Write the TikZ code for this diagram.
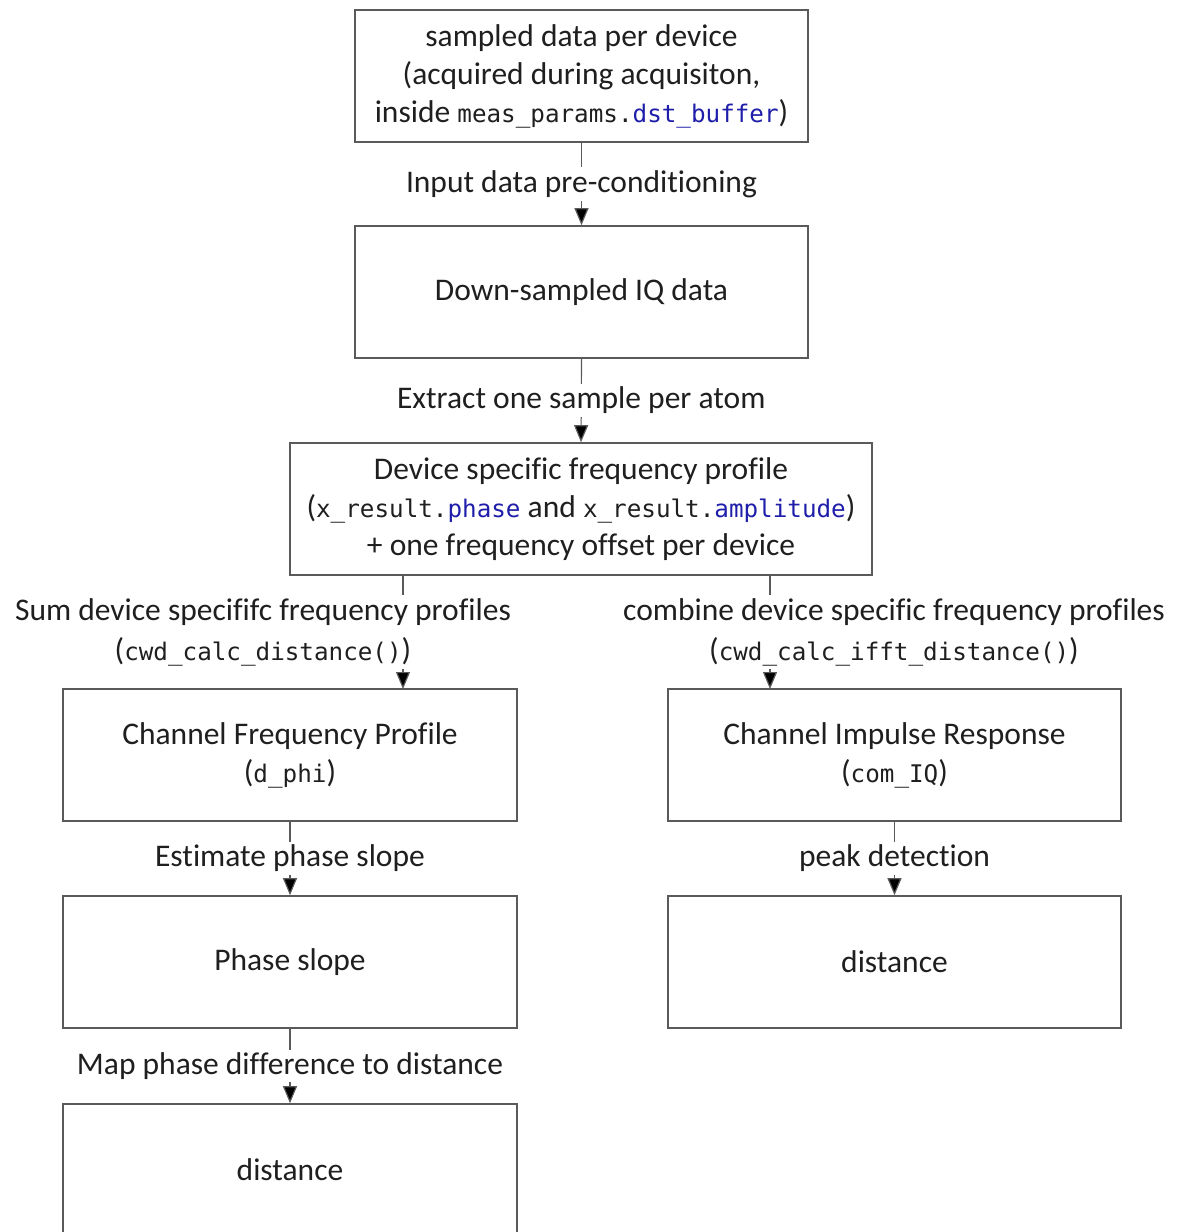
\documentclass[tikz,border=0pt]{standalone}
\usepackage{fontspec}
\setmainfont[Ligatures=NoCommon]{Carlito}
\setmonofont[Scale=0.77]{DejaVu Sans Mono}
\usetikzlibrary{arrows.meta}
\definecolor{codeblue}{RGB}{30,30,170}
\definecolor{edge}{RGB}{90,90,90}
\tikzset{
  box/.style={draw=edge, line width=1.6pt, minimum width=453pt, minimum height=132pt,
    align=center, inner sep=0pt, font=\fontsize{31.5}{38}\selectfont, text=black!88},
  lbl/.style={fill=white, inner sep=3pt, align=center, font=\fontsize{31.5}{40}\selectfont, text=black!88},
  conn/.style={draw=edge, line width=1.2pt, -{Triangle[length=17pt,width=14pt,fill=black]}},
}
\begin{document}
\begin{tikzpicture}[x=1pt,y=-1pt]
\useasboundingbox (0,0) rectangle (1179,1232);
\node[box] (n1) at (581.5,76) {sampled data per device\\(acquired during acquisiton,\\inside \texttt{meas\_params.}\textcolor{codeblue}{\texttt{dst\_buffer}})};
\node[box] (n2) at (581.5,292) {Down-sampled IQ data};
\node[box, minimum width=582pt] (n3) at (581,509) {Device specific frequency profile\\(\texttt{x\_result.}\textcolor{codeblue}{\texttt{phase}} and \texttt{x\_result.}\textcolor{codeblue}{\texttt{amplitude}})\\+ one frequency offset per device};
\node[box, minimum width=454pt] (l1) at (290,755) {Channel Frequency Profile\\(\texttt{d\_phi})};
\node[box, minimum width=453pt] (r1) at (894.5,755) {Channel Impulse Response\\(\texttt{com\_IQ})};
\node[box, minimum width=454pt] (l2) at (290,962) {Phase slope};
\node[box, minimum width=453pt] (r2) at (894.5,962) {distance};
\node[box, minimum width=454pt] (l3) at (290,1170) {distance};
\coordinate (c3l) at (403,575);
\coordinate (c3r) at (770,575);
\coordinate (tl1) at (403,689);
\coordinate (tr1) at (770,689);

\draw[conn] (n1.south) -- (n2.north) node[lbl, midway] (e1) {Input data pre-conditioning};
\draw[conn] (n2.south) -- (n3.north) node[lbl, midway] (e2) {Extract one sample per atom};
\draw[conn] (c3l) -- (tl1);
\node[lbl] (e3) at (263,632) {Sum device specififc frequency profiles\\(\texttt{cwd\_calc\_distance()})};
\draw[conn] (c3r) -- (tr1);
\node[lbl] (e4) at (894,632) {combine device specific frequency profiles\\(\texttt{cwd\_calc\_ifft\_distance()})};
\draw[conn] (l1.south) -- (l2.north) node[lbl, midway] (e5) {Estimate phase slope};
\draw[conn] (r1.south) -- (r2.north) node[lbl, midway] (e6) {peak detection};
\draw[conn] (l2.south) -- (l3.north) node[lbl, midway] (e7) {Map phase difference to distance};
\end{tikzpicture}
\end{document}
